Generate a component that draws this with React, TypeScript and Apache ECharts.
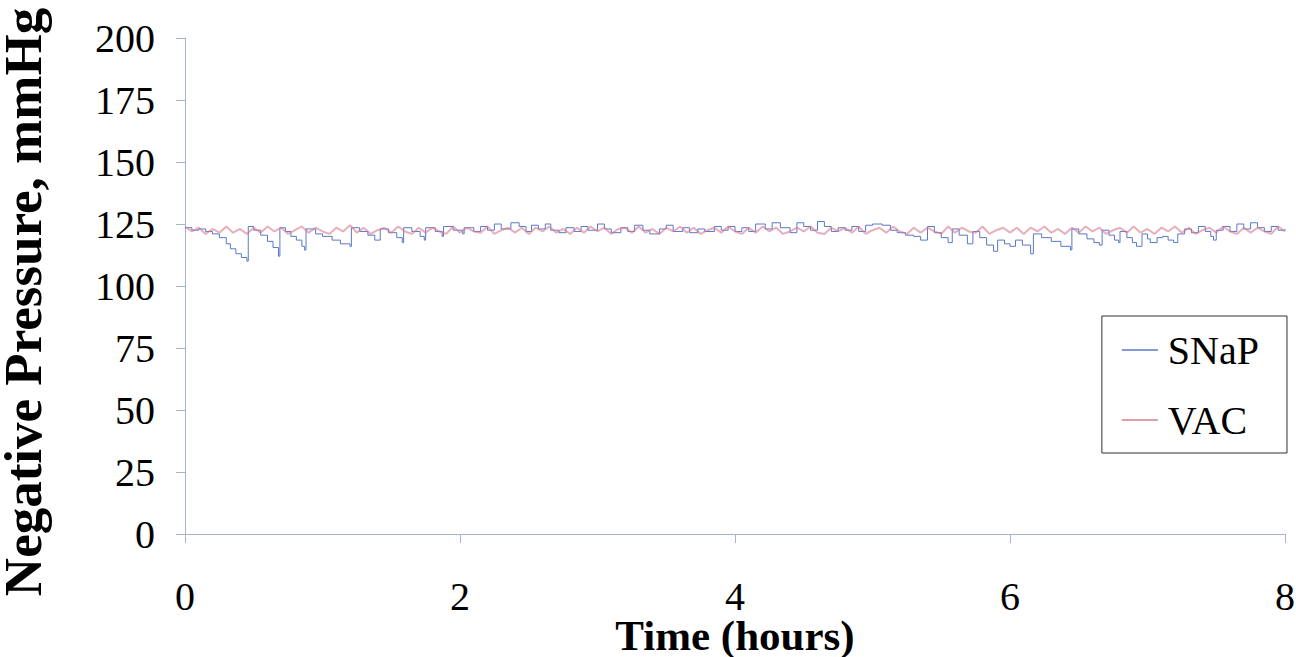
import React, { useEffect, useRef } from "react";
import * as echarts from "echarts";

const xTicks = [0, 2, 4, 6, 8];
const yTicks = [0, 25, 50, 75, 100, 125, 150, 175, 200];

// SNaP readings: [time (hours), negative pressure (mmHg)]
const snapData: [number, number][] = [
  [0, 123.5], [0.05, 122.5], [0.1, 123], [0.15, 122], [0.2, 121], [0.25, 119.5],
  [0.3, 117], [0.33, 115], [0.37, 113], [0.41, 111.5], [0.45, 110],
  [0.46, 124], [0.5, 122.5], [0.55, 120.5], [0.6, 118], [0.64, 115.5], [0.68, 112],
  [0.69, 123.5], [0.73, 122], [0.77, 120], [0.81, 118.5], [0.85, 116], [0.87, 114.5],
  [0.88, 123], [0.95, 121], [1.0, 120], [1.07, 118.5], [1.13, 117], [1.2, 116],
  [1.21, 123.5], [1.27, 122], [1.33, 120.5], [1.38, 118.5],
  [1.42, 123], [1.48, 121.5], [1.54, 119.5], [1.58, 117.5],
  [1.59, 123.5], [1.65, 122], [1.71, 120], [1.74, 118.5],
  [1.75, 123.5], [1.82, 122], [1.87, 120],
  [1.88, 124], [1.95, 122.5], [2.02, 121],
  [2.03, 123.5], [2.1, 122], [2.15, 124], [2.2, 122.5], [2.25, 125], [2.3, 123],
  [2.37, 125.5], [2.43, 124], [2.48, 122], [2.52, 124.5], [2.57, 123], [2.62, 125],
  [2.66, 122.5], [2.72, 121.5], [2.77, 123.5], [2.83, 122], [2.88, 124], [2.93, 122.5],
  [3.0, 125], [3.05, 123], [3.1, 121.5], [3.17, 123.5], [3.22, 122], [3.27, 124.5],
  [3.33, 122.5], [3.38, 121], [3.45, 123], [3.5, 124.5], [3.55, 122], [3.62, 123.5],
  [3.67, 121.5], [3.73, 123], [3.78, 122], [3.85, 124], [3.9, 122.5], [3.95, 124],
  [4.0, 122], [4.05, 123.5], [4.1, 122], [4.15, 125], [4.22, 123], [4.27, 125.5],
  [4.33, 123.5], [4.4, 121.5], [4.45, 125.5], [4.5, 124], [4.55, 122.5], [4.6, 126],
  [4.65, 124], [4.7, 122], [4.75, 123.5], [4.8, 122.5], [4.85, 124], [4.9, 122],
  [4.95, 124.5], [5.0, 125], [5.07, 124.5], [5.13, 122.5], [5.18, 121.5],
  [5.24, 120.5], [5.3, 120], [5.35, 118.5],
  [5.4, 124], [5.45, 121.5], [5.5, 119.5], [5.55, 117.5],
  [5.58, 123], [5.63, 120.5], [5.69, 117],
  [5.73, 122], [5.78, 119.5], [5.83, 116.5], [5.88, 114],
  [5.91, 118.5], [5.96, 117], [6.0, 116],
  [6.04, 118.5], [6.09, 116.5], [6.15, 113],
  [6.17, 121], [6.23, 119.5], [6.3, 118], [6.37, 116], [6.44, 114.5],
  [6.45, 123], [6.5, 121], [6.56, 119], [6.61, 117.5], [6.65, 116.5],
  [6.67, 122.5], [6.72, 120.5], [6.76, 118.5], [6.79, 117.5],
  [6.8, 122], [6.85, 119.5], [6.89, 117.5], [6.92, 116],
  [6.96, 121], [7.0, 119], [7.02, 117.5], [7.07, 119.5], [7.11, 120], [7.15, 118.5], [7.19, 117.5],
  [7.22, 121], [7.27, 123], [7.32, 121.5], [7.37, 124], [7.42, 122], [7.46, 120], [7.48, 118.5],
  [7.5, 122.5], [7.55, 124], [7.6, 122], [7.65, 125], [7.7, 123], [7.75, 125.5],
  [7.8, 123.5], [7.85, 122], [7.9, 124], [7.95, 122.5], [8.0, 123],
];

// VAC readings every 0.05 h (negative pressure, mmHg)
const vacValues = [
  124, 122, 123.5, 121, 123, 121.5, 124, 121.5, 123, 121,
  123.5, 121.5, 124, 122, 123.5, 121, 122.5, 124, 121.5, 123.5,
  122, 121, 123.5, 122, 124.5, 121.5, 123.5, 121, 122.5, 123.5,
  121.5, 124, 122, 121, 123.5, 121.5, 123.5, 122, 121, 124,
  121.5, 123.5, 122, 121.5, 124, 121, 122.5, 123.5, 121.5, 123.5,
  121, 123.5, 122, 124, 121.5, 123, 121, 123.5, 121.5, 124,
  122, 123.5, 121, 123, 123.5, 121.5, 124, 121.5, 123, 121,
  123.5, 122, 124, 121.5, 123.5, 121, 122.5, 123.5, 121.5, 124,
  122, 121, 123.5, 121.5, 124, 122, 123.5, 121, 122, 123.5,
  122, 124, 121.5, 121, 123.5, 122, 123.5, 121.5, 124, 121,
  122.5, 123.5, 121.5, 124, 122, 121, 123.5, 121.5, 123.5, 122,
  121, 124, 121.5, 123.5, 122, 121.5, 124, 121, 122.5, 123.5,
  121.5, 123.5, 121, 123.5, 122, 124, 121.5, 123, 121, 123.5,
  121.5, 124, 122, 123.5, 121, 122.5, 123.5, 121.5, 124, 121.5,
  123, 121, 123.5, 122, 124, 121.5, 123.5, 121, 122.5, 123.5,
  121.5, 124, 122, 121, 123.5, 121.5, 123.5, 122, 121, 124,
  122,
];
const vacStep = 0.05;

const FONT = "'Liberation Serif', 'Times New Roman', serif";

export default function App() {
  const ref = useRef<HTMLDivElement>(null);
  useEffect(() => {
    if (!ref.current) return;
    const chart = echarts.init(ref.current, null, { renderer: "svg" });
    const vacData = vacValues.map((v, i) => [i * vacStep, v]);
    const axisColor = "#a6b6c8";
    chart.setOption({
      animation: false,
      backgroundColor: "#ffffff",
      grid: {
        left: 185,
        right: 11,
        top: 38,
        bottom: 123,
        containLabel: false,
        outerBoundsMode: "none",
      },
      legend: {
        orient: "vertical",
        right: 9,
        top: 316,
        data: ["SNaP", "VAC"],
        borderColor: "#333333",
        borderWidth: 1,
        padding: [14, 28, 13, 20],
        itemGap: 30,
        itemWidth: 36,
        itemHeight: 1.5,
        icon: "rect",
        textStyle: { fontFamily: FONT, fontSize: 40, color: "#000", padding: [0, 0, 0, 5] },
      },
      xAxis: {
        type: "value",
        min: 0,
        max: 8,
        interval: 2,
        name: "Time (hours)",
        nameLocation: "middle",
        nameGap: 80,
        nameMoveOverlap: false,
        nameTextStyle: { fontFamily: FONT, fontSize: 43, fontWeight: "bold", color: "#000" },
        axisLine: { show: true, lineStyle: { color: axisColor, width: 1 } },
        axisTick: { show: true, length: 9, lineStyle: { color: axisColor } },
        axisLabel: {
          margin: 42,
          fontFamily: FONT,
          fontSize: 40,
          color: "#000",
          formatter: (v: number) => (xTicks.includes(v) ? String(v) : ""),
        },
        splitLine: { show: false },
      },
      yAxis: {
        type: "value",
        min: 0,
        max: 200,
        interval: 25,
        name: "Negative Pressure, mmHg",
        nameLocation: "middle",
        nameGap: 136,
        nameMoveOverlap: false,
        nameTextStyle: {
          fontFamily: FONT,
          fontSize: 53,
          fontWeight: "bold",
          color: "#000",
          padding: [0, 32, 0, 0],
        },
        axisLine: { show: true, lineStyle: { color: axisColor, width: 1 } },
        axisTick: { show: true, length: 9, lineStyle: { color: axisColor } },
        axisLabel: {
          margin: 30,
          fontFamily: FONT,
          fontSize: 40,
          color: "#000",
          formatter: (v: number) => (yTicks.includes(v) ? String(v) : ""),
        },
        splitLine: { show: false },
      },
      series: [
        {
          name: "SNaP",
          type: "line",
          step: "end",
          data: snapData,
          showSymbol: false,
          color: "#5a78c8",
          lineStyle: { color: "#5a78c8", width: 1 },
          z: 2,
        },
        {
          name: "VAC",
          type: "line",
          data: vacData,
          showSymbol: false,
          color: "#d77a90",
          lineStyle: { color: "#d77a90", width: 2, opacity: 0.6 },
          z: 3,
        },
      ],
    });
    return () => chart.dispose();
  }, []);
  return (
    <div
      ref={ref}
      style={{ position: "fixed", left: 0, top: 0, width: 1296, height: 657 }}
    />
  );
}
